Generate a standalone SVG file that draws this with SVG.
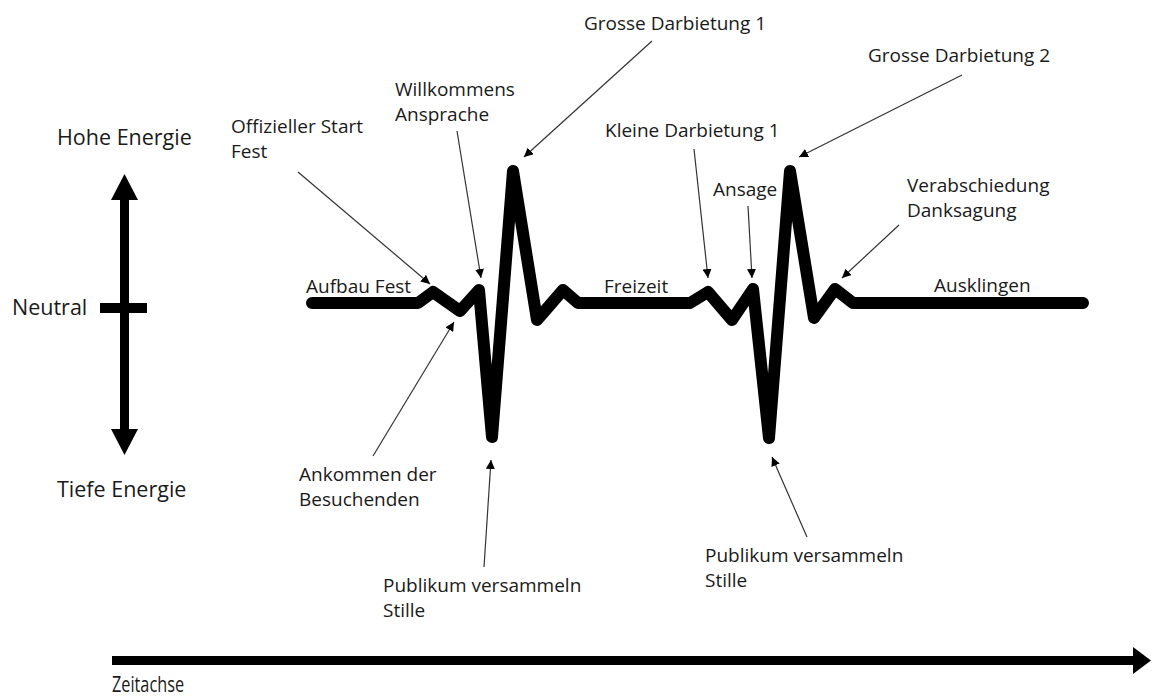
<svg xmlns="http://www.w3.org/2000/svg" width="1162" height="697" viewBox="0 0 1162 697">
<style>
text{font-family:"Open Sans","Liberation Sans",sans-serif;font-size:19px;fill:#1a1a1a}
.big{font-size:21.5px}
.axis{font-size:22px}
.wave{fill:none;stroke:#000;stroke-width:12;stroke-linejoin:round;stroke-linecap:round}
.ptr{stroke:#333;stroke-width:1.2;fill:none;marker-end:url(#ah)}
</style>
<defs>
<marker id="ah" viewBox="0 0 10 10" refX="10" refY="5" markerWidth="9" markerHeight="9" markerUnits="userSpaceOnUse" orient="auto">
<path d="M0,0 L10,5 L0,10 Z" fill="#000"/>
</marker>
</defs>
<rect width="1162" height="697" fill="#fff"/>
<g id="energy-axis">
<rect x="120" y="198" width="9" height="235" fill="#000"/>
<path d="M124.5,174 L138,200 L111,200 Z" fill="#000"/>
<path d="M124.5,455 L138,429 L111,429 Z" fill="#000"/>
<rect x="100" y="303" width="47" height="10" fill="#000"/>
<text class="big" x="57" y="145">Hohe Energie</text>
<text class="big" x="12" y="315">Neutral</text>
<text class="big" x="57" y="497">Tiefe Energie</text>
</g>
<g id="time-axis">
<rect x="112" y="656" width="1024" height="9" fill="#000"/>
<path d="M1133,647 L1151,660.5 L1133,674 Z" fill="#000"/>
<text class="axis" transform="translate(112,692) scale(0.74,1)">Zeitachse</text>
</g>
<g id="wave">
<path class="wave" d="M312,303 L418,303 L433,292 L460,311 L479,290 L492,437 L513,171 L537,320 L563,290 L578,303 L690,303 L708,292 L732,320 L753,289 L769,438 L790,171 L814,318 L835,289 L853,303 L1083,303"/>
</g>
<g id="labels">
<g id="n-aufbau"><text x="306" y="293">Aufbau Fest</text></g>
<g id="n-freizeit"><text x="604" y="293">Freizeit</text></g>
<g id="n-ausklingen"><text x="934" y="292">Ausklingen</text></g>
<g id="n-offiziell"><text x="231" y="133">Offizieller Start</text><text x="231" y="158">Fest</text></g>
<g id="n-willkommen"><text x="395" y="96">Willkommens</text><text x="395" y="121">Ansprache</text></g>
<g id="n-gross1"><text x="584" y="30">Grosse Darbietung 1</text></g>
<g id="n-klein1"><text x="605" y="137">Kleine Darbietung 1</text></g>
<g id="n-ansage"><text x="713" y="196">Ansage</text></g>
<g id="n-gross2"><text x="868" y="62">Grosse Darbietung 2</text></g>
<g id="n-verabschiedung"><text x="907" y="192">Verabschiedung</text><text x="907" y="217">Danksagung</text></g>
<g id="n-ankommen"><text x="299" y="481">Ankommen der</text><text x="299" y="506">Besuchenden</text></g>
<g id="n-publikum1"><text x="383" y="592">Publikum versammeln</text><text x="383" y="617">Stille</text></g>
<g id="n-publikum2"><text x="705" y="562">Publikum versammeln</text><text x="705" y="587">Stille</text></g>
</g>
<g id="connectors">
<line class="ptr" x1="298" y1="172" x2="430" y2="284"/>
<line class="ptr" x1="457" y1="131" x2="481" y2="278"/>
<line class="ptr" x1="652" y1="41" x2="524" y2="157"/>
<line class="ptr" x1="373" y1="456" x2="454" y2="322"/>
<line class="ptr" x1="484" y1="567" x2="491" y2="460"/>
<line class="ptr" x1="694" y1="149" x2="708" y2="278"/>
<line class="ptr" x1="748" y1="206" x2="752" y2="278"/>
<line class="ptr" x1="962" y1="75" x2="799" y2="157"/>
<line class="ptr" x1="899" y1="225" x2="842" y2="278"/>
<line class="ptr" x1="807" y1="537" x2="772" y2="457"/>
</g>
</svg>
